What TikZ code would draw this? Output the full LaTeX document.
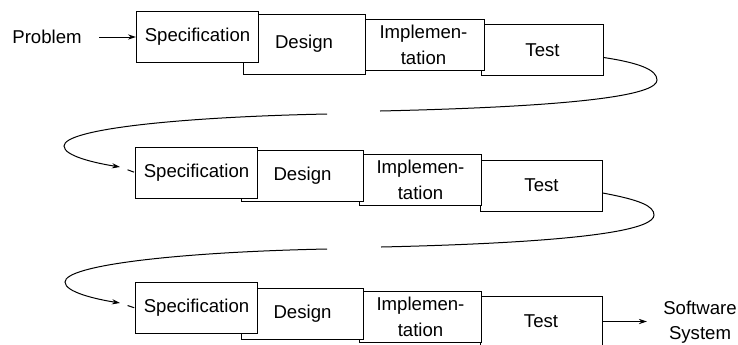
\documentclass[tikz,border=0pt]{standalone}
\usepackage{fontspec}
\setmainfont{Liberation Sans}
\usetikzlibrary{arrows.meta}
\newcommand{\stagefont}{\fontsize{9.3}{12.8}\selectfont}

\begin{document}
\begin{tikzpicture}[x=0.5pt, y=-0.5pt,
  stage/.style={draw, fill=white, line width=0.5pt, inner sep=0pt,
    minimum width=61pt, minimum height=25.5pt, font=\stagefont, align=center},
  plain/.style={inner sep=0pt, font=\stagefont, align=center},
  flow/.style={line width=0.5pt},
  >={Stealth[length=4pt,width=2.6pt]}
]
\useasboundingbox (0,0) rectangle (738,344);

\node[stage] (t1) at (542.5,50) {Test};
\node[stage] (i1) at (423.5,45) {Implemen-\\tation};
\node[stage, minimum height=30pt] (d1) at (304,44) {Design};
\node[stage] (s1) at (197.5,37) {Specification};

\node[stage] (t2) at (541.5,185.5) {Test};
\node[stage] (i2) at (420.5,180) {Implemen-\\tation};
\node[stage] (d2) at (302.5,175.5) {Design};
\node[stage] (s2) at (196.5,172.5) {Specification};

\node[stage] (t3) at (541,321.5) {Test};
\node[stage] (i3) at (420.5,317) {Implemen-\\tation};
\node[stage] (d3) at (302.5,313.5) {Design};
\node[stage] (s3) at (196.5,308) {Specification};

\node[plain] (prob) at (47,37) {Problem};
\node[plain] (sys) at (700,322) {Software\\System};

\draw[->, flow, shorten <=8.5pt] (prob.east) -- (s1.west);
\draw[->, flow, shorten >=8pt] (t3.east) -- (t3.east -| sys.west);

\coordinate (g1a) at (380,111);
\coordinate (g1b) at (327,114);
\coordinate (a2) at (120,167);
\coordinate (g2a) at (381,247);
\coordinate (g2b) at (327,249);
\coordinate (a3) at (120,303);

\draw[flow] (t1.-7) .. controls (640,63) and (657,70) .. (657,80)
  .. controls (657,93) and (600,106) .. (g1a);
\draw[->, flow] (g1b) .. controls (180,117) and (64,129) .. (64,146)
  .. controls (64,156) and (95,163) .. (a2);
\draw[flow, dash pattern=on 3.5pt off 4pt, dash phase=3.5pt] (a2) -- (s2.west);

\draw[flow] (t2.-7) .. controls (640,200) and (654,206) .. (654,215)
  .. controls (654,228) and (600,242) .. (g2a);
\draw[->, flow] (g2b) .. controls (180,252) and (65,265) .. (65,282)
  .. controls (65,292) and (95,299) .. (a3);
\draw[flow, dash pattern=on 3.5pt off 4pt, dash phase=3.5pt] (a3) -- (s3.west);

\end{tikzpicture}
\end{document}
